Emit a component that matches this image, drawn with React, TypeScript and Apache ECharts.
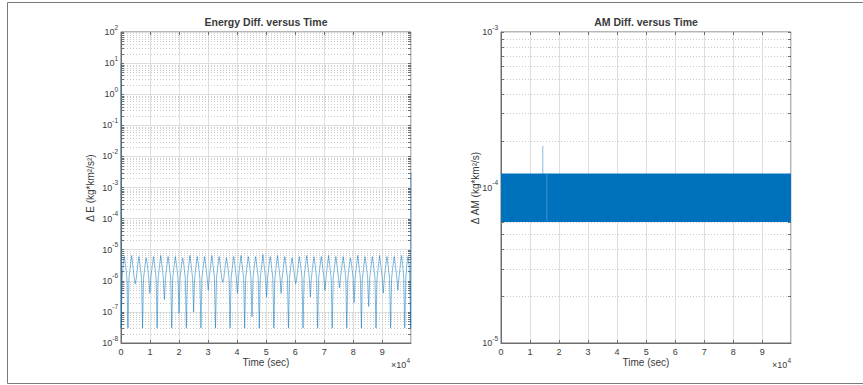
import React, { useEffect, useRef } from 'react';
import * as echarts from 'echarts';

// ---------- data ----------
const xMax = 99900;
const xTickStep = 10000;

// Energy difference: sharp dips between rounded arches, spike at each arch top
const energyStart: [number, number] = [0, 10];
const energyEnd: [number, number] = [99900, 3e-3];
const energyDipTimes = [60, 2397, 4910, 7423, 9936, 12449, 14962, 17475, 19988, 22501, 25014, 27527, 30040, 32553, 35066, 37579, 40092, 42605, 45118, 47631, 50144, 52657, 55170, 57683, 60196, 62709, 65222, 67735, 70248, 72761, 75274, 77787, 80300, 82813, 85326, 87839, 90352, 92865, 95378, 97750, 99800];
const energyDipValues = [3e-8, 3e-8, 8e-7, 3e-8, 4e-7, 3e-8, 2.5e-7, 3e-8, 9e-8, 3e-8, 1e-7, 3e-8, 5e-7, 3e-8, 9e-7, 3e-8, 4e-7, 3e-8, 7e-8, 3e-8, 3e-7, 3e-8, 4e-7, 3e-8, 8e-7, 3e-8, 3e-7, 3e-8, 5e-7, 3e-8, 6e-7, 3e-8, 2e-7, 3e-8, 1.5e-7, 3e-8, 4e-7, 3e-8, 5e-7, 3e-8, 3e-8];
const energyPeakTimes = [1140, 3653, 6166, 8679, 11192, 13705, 16218, 18731, 21244, 23757, 26270, 28783, 31296, 33809, 36322, 38835, 41348, 43861, 46374, 48887, 51400, 53913, 56426, 58939, 61452, 63965, 66478, 68991, 71504, 74017, 76530, 79043, 81556, 84069, 86582, 89095, 91608, 94121, 96634, 98850];
const energyPeakValues = [6e-6, 6.5e-6, 6e-6, 5.5e-6, 6e-6, 6.5e-6, 6e-6, 6e-6, 5.5e-6, 6.5e-6, 6e-6, 6e-6, 6.5e-6, 6e-6, 5.5e-6, 6e-6, 6.5e-6, 6e-6, 6e-6, 7e-6, 6e-6, 6.5e-6, 6e-6, 5.5e-6, 6e-6, 6.5e-6, 6e-6, 6e-6, 6.5e-6, 6e-6, 6e-6, 5.5e-6, 6.5e-6, 6e-6, 6e-6, 6.5e-6, 6e-6, 6e-6, 6.5e-6, 6e-6];
const energyLowShoulder = 1.2e-6;  // arch flank level
const energyHighShoulder = 3.2e-6; // rounded arch body level

// Angular momentum difference: dense oscillation filling a band
const amBand = [[0, 99900, 6.0e-5, 1.23e-4]];
const amSpike: [number, number][] = [[14400, 1.2e-4], [14400, 1.85e-4]];
const amGap: [number, number][] = [[15800, 6.1e-5], [15800, 1.22e-4]];

// ---------- styling ----------
const FONT = "'Liberation Sans', Arial, Helvetica, sans-serif";
const TEXT = '#3a3a3a';
const AXIS = '#6e6e6e';
const MAJOR_GRID = '#dedede';
const MINOR_GRID = '#cccccc';
const LINE_BLUE = '#0072BD';

function buildEnergy(): [number, number][] {
  const rise = 350;
  const top = 400;
  const out: [number, number][] = [energyStart];
  for (let k = 0; k < energyPeakTimes.length; k++) {
    out.push([energyDipTimes[k], energyDipValues[k]]);
    out.push([energyDipTimes[k] + rise, energyLowShoulder]);
    out.push([energyPeakTimes[k] - top, energyHighShoulder]);
    out.push([energyPeakTimes[k], energyPeakValues[k]]);
    out.push([energyPeakTimes[k] + top, energyHighShoulder]);
    out.push([energyDipTimes[k + 1] - rise, energyLowShoulder]);
  }
  const last = energyDipTimes.length - 1;
  out.push([energyDipTimes[last], energyDipValues[last]]);
  out.push(energyEnd);
  return out;
}

function logTicks(minExp: number, maxExp: number) {
  const items: number[][] = [];
  for (let e = minExp; e <= maxExp; e++) {
    items.push([0, Math.pow(10, e), 0]);
    if (e < maxExp) for (let m = 2; m <= 9; m++) items.push([0, m * Math.pow(10, e), 1]);
  }
  return items;
}

function yDecor(gridIndex: number, minExp: number, maxExp: number) {
  return {
    type: 'custom',
    xAxisIndex: gridIndex,
    yAxisIndex: gridIndex,
    silent: true,
    z: 1,
    encode: { x: 0, y: 1 },
    data: logTicks(minExp, maxExp),
    renderItem: (params: any, api: any) => {
      const cs = params.coordSys;
      const y = Math.round(api.coord([0, api.value(1)])[1]) + 0.5;
      const minor = api.value(2) === 1;
      const children: any[] = [];
      if (minor) {
        children.push({
          type: 'line',
          shape: { x1: cs.x, y1: y, x2: cs.x + cs.width, y2: y },
          style: { stroke: MINOR_GRID, lineWidth: 1, lineDash: [1, 2] },
        });
        children.push({
          type: 'line',
          shape: { x1: cs.x, y1: y, x2: cs.x + 3, y2: y },
          style: { stroke: AXIS, lineWidth: 1 },
        });
      }
      children.push({
        type: 'line',
        shape: { x1: cs.x + cs.width - 3, y1: y, x2: cs.x + cs.width, y2: y },
        style: { stroke: AXIS, lineWidth: 1 },
      });
      return { type: 'group', children };
    },
  };
}

function xTopDecor(gridIndex: number) {
  const data: number[][] = [];
  for (let v = 0; v <= xMax; v += xTickStep) data.push([v, 1]);
  return {
    type: 'custom',
    xAxisIndex: gridIndex,
    yAxisIndex: gridIndex,
    silent: true,
    z: 1,
    encode: { x: 0 },
    data,
    renderItem: (params: any, api: any) => {
      const cs = params.coordSys;
      const x = Math.round(api.coord([api.value(0), gridIndex === 0 ? 1 : 1e-4])[0]) + 0.5;
      return {
        type: 'line',
        shape: { x1: x, y1: cs.y, x2: x, y2: cs.y + 3 },
        style: { stroke: AXIS, lineWidth: 1 },
      };
    },
  };
}

const supRich = {
  b: { fontSize: 9, color: TEXT, fontFamily: FONT, verticalAlign: 'bottom', lineHeight: 13 },
  s: { fontSize: 6.5, color: TEXT, fontFamily: FONT, verticalAlign: 'top', lineHeight: 13 },
};

function yAxisCfg(gridIndex: number, min: number, max: number) {
  return {
    type: 'log',
    logBase: 10,
    gridIndex,
    min,
    max,
    interval: 1,
    splitNumber: Math.round(Math.log10(max / min)),
    axisLine: { show: true, lineStyle: { color: AXIS, width: 1 } },
    axisTick: { show: true, inside: true, length: 3, lineStyle: { color: AXIS } },
    axisLabel: {
      margin: 3,
      padding: [0, 0, 4, 0],
      formatter: (v: number) => `{b|10}{s|${Math.round(Math.log10(v))}}`,
      rich: supRich,
    },
    splitLine: { show: true, lineStyle: { color: MAJOR_GRID, width: 1 } },
  };
}

function xAxisCfg(gridIndex: number) {
  return {
    type: 'value',
    gridIndex,
    min: 0,
    max: xMax,
    interval: xTickStep,
    axisLine: { show: true, lineStyle: { color: AXIS, width: 1 } },
    axisTick: { show: true, inside: true, length: 3, lineStyle: { color: AXIS } },
    axisLabel: {
      margin: 4,
      fontSize: 9,
      color: TEXT,
      fontFamily: FONT,
      showMaxLabel: false,
      formatter: (v: number) => (v % xTickStep === 0 ? String(v / xTickStep) : ''),
    },
    splitLine: { show: true, lineStyle: { color: MAJOR_GRID, width: 1 } },
  };
}

function textEl(x: number, y: number, text: string, opts: any = {}) {
  return {
    type: 'text',
    x,
    y,
    rotation: opts.rotation || 0,
    style: {
      text,
      fill: TEXT,
      font: `${opts.bold ? 'bold ' : ''}${opts.size || 9.5}px ${FONT}`,
      align: opts.align || 'center',
      verticalAlign: 'middle',
      rich: opts.rich,
    },
  };
}

const timesRich = {
  a: { fontSize: 9, fill: TEXT, fontFamily: FONT, verticalAlign: 'bottom', lineHeight: 12 },
  s: { fontSize: 6.5, fill: TEXT, fontFamily: FONT, verticalAlign: 'top', lineHeight: 12 },
};

export default function App() {
  const ref = useRef<HTMLDivElement>(null);
  useEffect(() => {
    if (!ref.current) return;
    const chart = echarts.init(ref.current, undefined, { renderer: 'svg' });
    const option: any = {
      animation: false,
      backgroundColor: '#ffffff',
      textStyle: { fontFamily: FONT },
      grid: [
        { left: 121, top: 32, width: 290, height: 311, show: true, borderColor: AXIS, borderWidth: 1, backgroundColor: 'transparent' },
        { left: 501, top: 32, width: 290, height: 311, show: true, borderColor: AXIS, borderWidth: 1, backgroundColor: 'transparent' },
      ],
      xAxis: [xAxisCfg(0), xAxisCfg(1)],
      yAxis: [yAxisCfg(0, 1e-8, 1e2), yAxisCfg(1, 1e-5, 1e-3)],
      series: [
        yDecor(0, -8, 2),
        xTopDecor(0),
        {
          type: 'line',
          xAxisIndex: 0,
          yAxisIndex: 0,
          data: buildEnergy(),
          showSymbol: false,
          symbol: 'none',
          z: 3,
          lineStyle: { color: LINE_BLUE, width: 0.6, opacity: 0.85 },
        },
        yDecor(1, -5, -3),
        xTopDecor(1),
        {
          type: 'custom',
          xAxisIndex: 1,
          yAxisIndex: 1,
          z: 3,
          encode: { x: [0, 1], y: [2, 3] },
          data: amBand,
          renderItem: (params: any, api: any) => {
            const p1 = api.coord([api.value(0), api.value(3)]);
            const p2 = api.coord([api.value(1), api.value(2)]);
            return {
              type: 'rect',
              shape: { x: p1[0], y: p1[1], width: p2[0] - p1[0], height: p2[1] - p1[1] },
              style: { fill: LINE_BLUE },
            };
          },
        },
        {
          type: 'line',
          xAxisIndex: 1,
          yAxisIndex: 1,
          data: amSpike,
          showSymbol: false,
          symbol: 'none',
          z: 4,
          lineStyle: { color: LINE_BLUE, width: 0.6, opacity: 0.8 },
        },
        {
          type: 'line',
          xAxisIndex: 1,
          yAxisIndex: 1,
          data: amGap,
          showSymbol: false,
          symbol: 'none',
          z: 4,
          lineStyle: { color: '#4d9ad3', width: 0.8 },
        },
      ],
      graphic: [
        { type: 'rect', shape: { x: 7.5, y: 2.5, width: 900, height: 381 }, style: { fill: 'none', stroke: '#7a7a7a', lineWidth: 1 }, silent: true },
        textEl(266, 22, 'Energy Diff. versus Time', { bold: true, size: 10.5 }),
        textEl(646, 22, 'AM Diff. versus Time', { bold: true, size: 10.5 }),
        textEl(266, 362, 'Time (sec)', { size: 10 }),
        textEl(646, 362, 'Time (sec)', { size: 10 }),
        textEl(90, 188, 'Δ E (kg*km²/s²)', { size: 10, rotation: Math.PI / 2 }),
        textEl(475, 188, 'Δ AM (kg*km²/s)', { size: 10, rotation: Math.PI / 2 }),
        textEl(410, 363, '{a|×10}{s|4}', { align: 'right', rich: timesRich }),
        textEl(791, 363, '{a|×10}{s|4}', { align: 'right', rich: timesRich }),
      ],
    };
    chart.setOption(option);
    return () => chart.dispose();
  }, []);
  return <div ref={ref} style={{ position: 'absolute', left: 0, top: 0, width: 863, height: 385 }} />;
}
